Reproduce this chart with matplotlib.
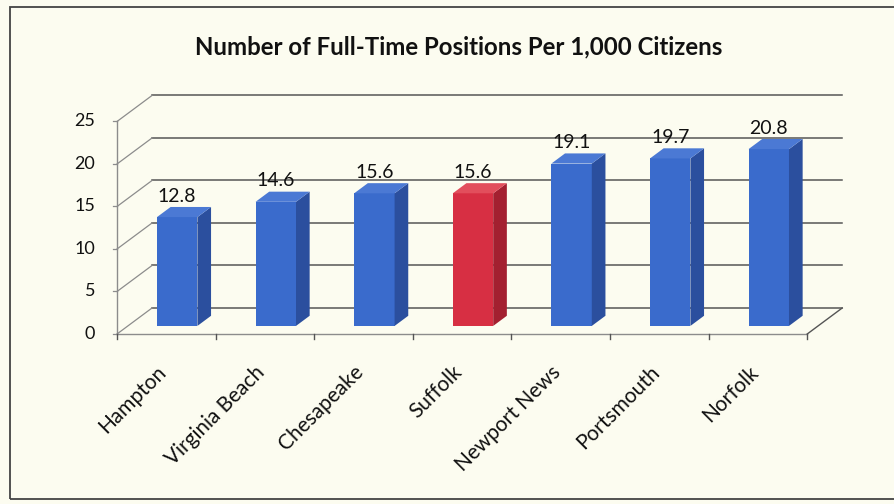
import matplotlib.pyplot as plt
from matplotlib.patches import Polygon, Rectangle

# data
cities = ['Hampton', 'Virginia Beach', 'Chesapeake', 'Suffolk',
          'Newport News', 'Portsmouth', 'Norfolk']
positions = [12.8, 14.6, 15.6, 15.6, 19.1, 19.7, 20.8]
highlight = ['Suffolk']
y_ticks = [0, 5, 10, 15, 20, 25]
title = 'Number of Full-Time Positions Per 1,000 Citizens'

# colours
bg = '#fcfcf0'
blue = ('#3a6bcc', '#2b4f9e', '#4b79d4')   # front, side, top
red = ('#d72f43', '#a32030', '#e24e5c')
grid_col = '#555555'
wall_col = '#8c8c8c'

plt.rcParams['font.family'] = ['Lato', 'DejaVu Sans']

fig = plt.figure(figsize=(8.94, 5.04), dpi=100)
fig.patch.set_facecolor(bg)
ax = fig.add_axes([0, 0, 1, 1])
ax.set_facecolor(bg)
ax.set_xlim(-1.687, 7.380)
ax.set_ylim(-20.0, 39.29)
ax.axis('off')

# pseudo-3D depth (category units, value units)
DX, DY = 0.355, 3.06
f0, f1 = 0.31, 0.70          # bar front / back as fraction of depth
w = 0.41
n = len(cities)
left, right = -0.5, n - 0.5

# back wall gridlines and left wall diagonals
for t in y_ticks:
    ax.plot([left + DX, right + DX], [t + DY, t + DY], color=grid_col, lw=1.1, zorder=1)
    ax.plot([left, left + DX], [t, t + DY], color=wall_col, lw=0.9, zorder=1)
    ax.plot([left - 0.04, left], [t, t], color=wall_col, lw=0.9, zorder=1)
    ax.text(left - 0.22, t, str(t), ha='right', va='center', fontsize=13, color='#111111')

# floor edges and front axis
ax.plot([left, right], [0, 0], color=wall_col, lw=1.0, zorder=1)
ax.plot([right, right + DX], [0, DY], color=grid_col, lw=1.0, zorder=1)
ax.plot([left, left], [0, y_ticks[-1]], color=wall_col, lw=1.0, zorder=1)
for k in range(n + 1):
    ax.plot([k - 0.5, k - 0.5], [0, -0.6], color=grid_col, lw=1.0, zorder=1)

# bars
for i, (city, v) in enumerate(zip(cities, positions)):
    front, side, top = red if city in highlight else blue
    x0 = i + f0 * DX
    b0 = f0 * DY
    d = f1 - f0
    ax.bar(x0, v, width=w, bottom=b0, color=front, zorder=3)
    xl, xr = x0 - w / 2, x0 + w / 2
    ax.add_patch(Polygon([(xr, b0), (xr + d * DX, b0 + d * DY),
                          (xr + d * DX, b0 + v + d * DY), (xr, b0 + v)],
                         closed=True, fc=side, ec='none', zorder=3))
    ax.add_patch(Polygon([(xl, b0 + v), (xr, b0 + v),
                          (xr + d * DX, b0 + v + d * DY), (xl + d * DX, b0 + v + d * DY)],
                         closed=True, fc=top, ec='none', zorder=3))
    ax.text(x0, v + 3.4, f'{v:.1f}', ha='center', va='center', fontsize=14,
            color='#111111', zorder=4)
    ax.text(i + 0.04, -3.3, city, rotation=45, ha='right', va='top',
            fontsize=15, color='#111111')

# title and outer frame
fig.text(459 / 894, 1 - 47 / 504, title, ha='center', va='center',
         fontsize=17.3, fontweight='bold', color='#111111')
fig.patches.append(Rectangle((10 / 894, 5 / 504), 1.0, 492 / 504, transform=fig.transFigure,
                             fill=False, ec='#444444', lw=1.3))

fig.savefig('out.png', dpi=100, facecolor=bg)
